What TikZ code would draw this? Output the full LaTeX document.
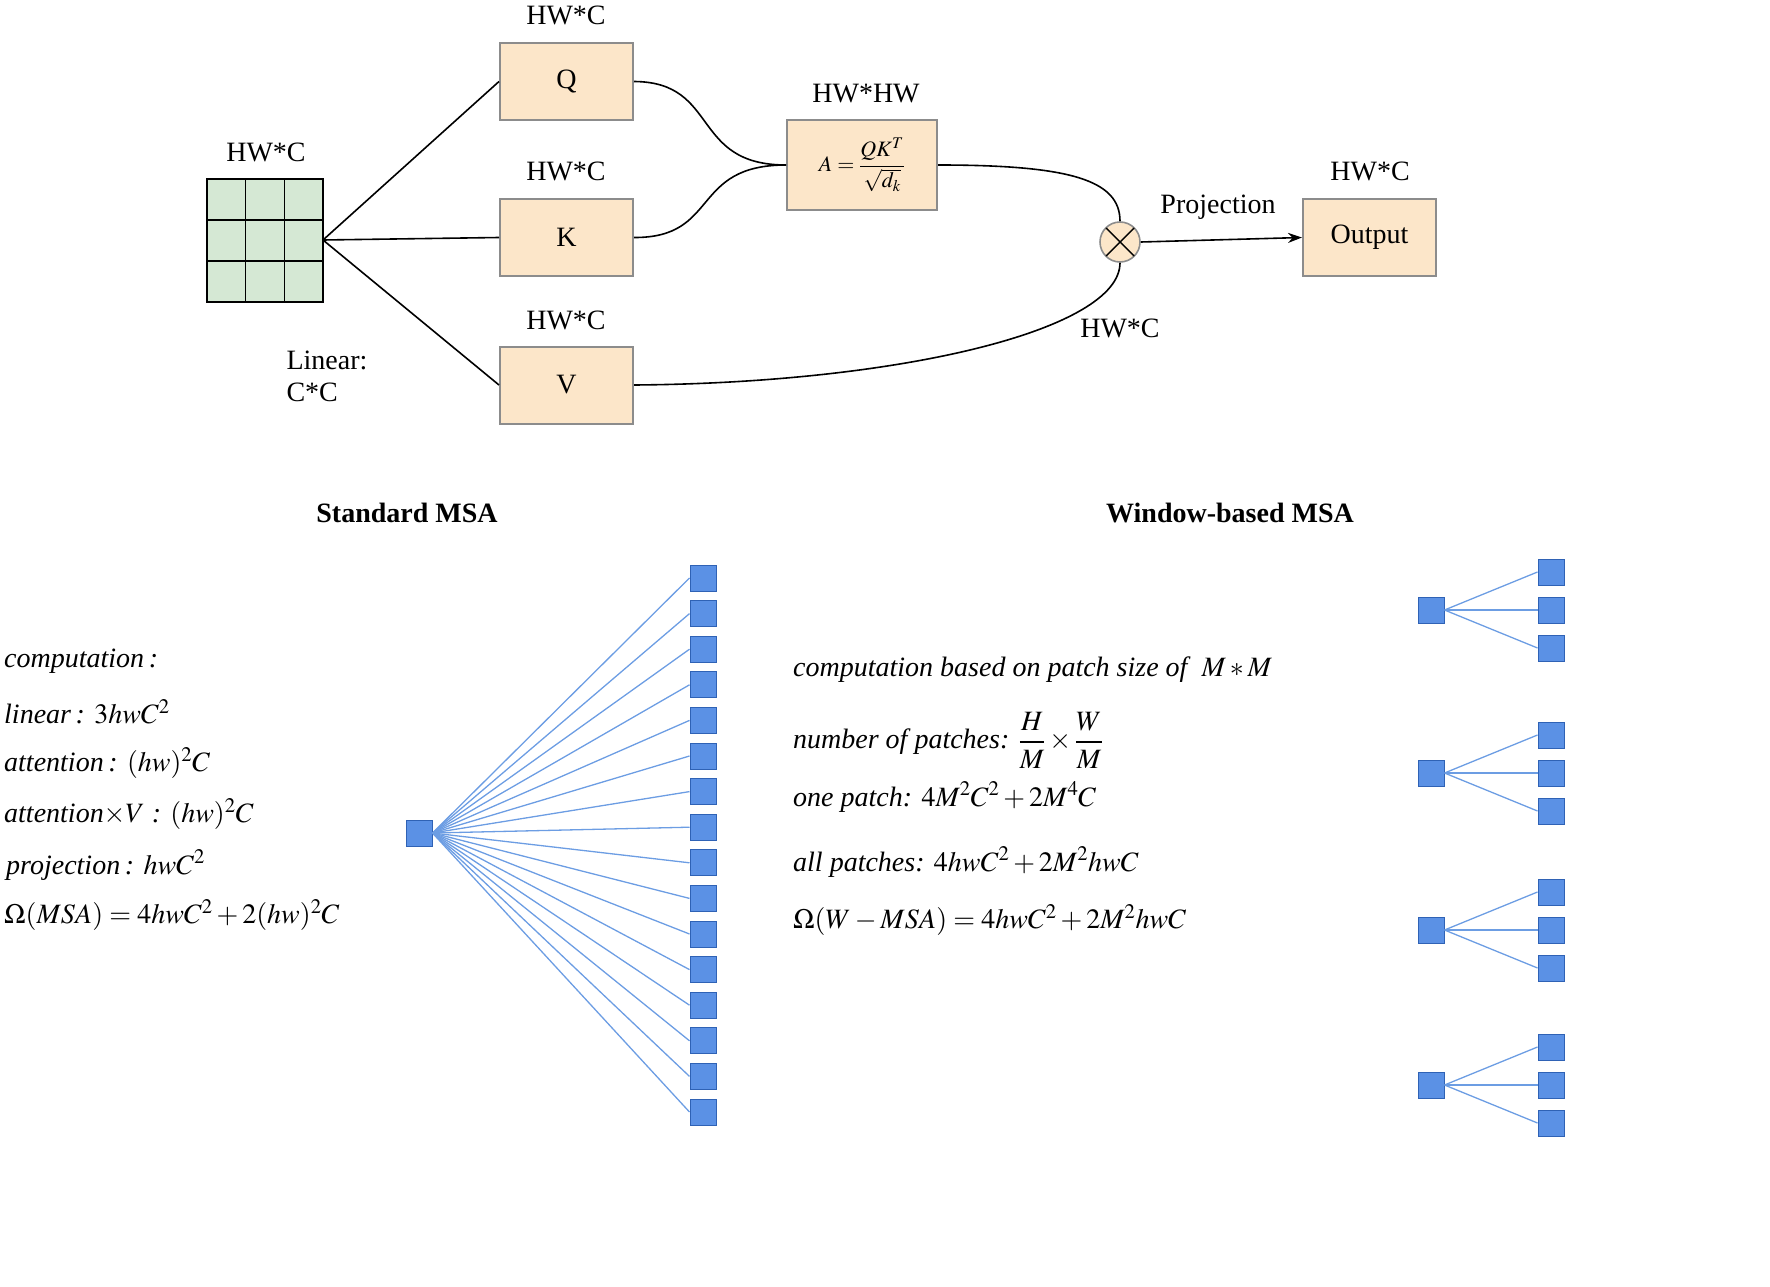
\documentclass[tikz,border=0pt]{standalone}
\usepackage{amsmath}
\usepackage{mathptmx}
\usepackage{fontspec}
\setmainfont{Liberation Serif}
\usetikzlibrary{arrows.meta,calc}
\definecolor{boxf}{HTML}{FCE6C9}
\definecolor{boxd}{HTML}{8C8C8C}
\definecolor{gridf}{HTML}{D5E8D4}
\definecolor{bluef}{HTML}{5B91E5}
\definecolor{blued}{HTML}{2F62B5}
\definecolor{bluel}{HTML}{6C9DE3}
\begin{document}
\begin{tikzpicture}[x=1pt,y=-1pt,
  lab/.style={font=\fontsize{28}{32}\selectfont},
  box/.style={draw=boxd,line width=2pt,fill=boxf,minimum width=133pt,minimum height=77pt,font=\fontsize{28}{32}\selectfont},
  sq/.style={draw=blued,fill=bluef,line width=1pt,minimum size=26pt,inner sep=0pt},
  bl/.style={draw=bluel,line width=1.3pt},
  fm/.style={anchor=west,font=\fontsize{28}{32}\selectfont\itshape,inner sep=0pt},
  con/.style={line width=1.6pt}]
\useasboundingbox (0,0) rectangle (1770,1287);
% grid
\fill[gridf] (207,179) rectangle (323,302);
\draw[line width=1.6pt] (207,179) rectangle (323,302);
\draw[line width=1.6pt] (245.67,179)--(245.67,302) (284.33,179)--(284.33,302) (207,220)--(323,220) (207,261)--(323,261);
\coordinate (g) at (323,240);
\node[lab] at (266,152) {HW*C};
\node[box] (Q) at (566.5,81.5) {Q};
\node[box] (K) at (566.5,237.5) {K};
\node[box] (V) at (566.5,385) {V};
\node[lab] at (566,15) {HW*C};
\node[lab] at (566,171) {HW*C};
\node[lab] at (566,320) {HW*C};
\node[box,minimum width=150pt,minimum height=90pt,inner sep=2pt,font=\fontsize{22}{26}\selectfont] (A) at (862,165) {$A=\dfrac{QK^T}{\sqrt{d_k}}$};
\node[lab] at (866,94) {HW*HW};
\node[draw=boxd,line width=1.6pt,fill=boxf,circle,minimum size=40pt,inner sep=0pt] (M) at (1120,242) {};
\draw[line width=1.4pt] ($(M.center)+(-14,-14)$) -- ++(28,28) ($(M.center)+(14,-14)$) -- ++(-28,28);
\node[box] (O) at (1369.5,237.5) {Output};
\node[lab] at (1370,171) {HW*C};
\node[lab] at (1218,207) {Projection};
\node[lab] at (1120,328) {HW*C};
\node[lab,anchor=west,align=left] at (283,376) {Linear:\\C*C};
\draw[con] (g) -- (Q.west);
\draw[con] (g) -- (K.west);
\draw[con] (g) -- (V.west);
\draw[con] (Q.east) .. controls (720,82) and (690,165) .. (A.west);
\draw[con] (K.east) .. controls (720,238) and (690,165) .. (A.west);
\draw[con] (A.east) .. controls (1070,165) and (1120,180) .. (M.north);
\draw[con] (V.east) .. controls (900,383) and (1120,330) .. (M.south);
\draw[con,-{Stealth[length=14pt,width=10pt]}] (M.east) -- (O.west);
% lower
\node[font=\fontsize{28}{32}\selectfont\bfseries] at (407,513) {Standard MSA};
\node[font=\fontsize{28}{32}\selectfont\bfseries] at (1230,513) {Window-based MSA};
\node[sq] (s) at (419,833) {};
\foreach \i in {0,...,15}{
  \node[sq] (t\i) at (703,{578+\i*35.6}) {};
  \draw[bl] (s.east) -- (t\i.west);
}
\foreach \j/\y in {1/610,2/773,3/930,4/1085}{
  \node[sq] (w\j) at (1431,\y) {};
  \foreach \k in {-1,0,1}{
    \node[sq] (w\j\k) at (1551,{\y+\k*38}) {};
    \draw[bl] (w\j.east) -- (w\j\k.west);
  }
}
\node[fm] at (4,661) {computation\,:};
\node[fm] at (4,712) {linear\,: $3hwC^2$};
\node[fm] at (4,763) {attention\,: $(hw)^2C$};
\node[fm] at (4,814) {attention$\times V$ : $(hw)^2C$};
\node[fm] at (6,865) {projection\,: $hwC^2$};
\node[fm] at (4,915) {$\Omega(MSA)=4hwC^2+2(hw)^2C$};
\node[fm] at (793,670) {computation based on patch size of \ $M*M$};
\node[fm] at (793,740) {number of patches: $\dfrac{H}{M}\times\dfrac{W}{M}$};
\node[fm] at (793,797) {one patch: $4M^2C^2+2M^4C$};
\node[fm] at (793,862) {all patches: $4hwC^2+2M^2hwC$};
\node[fm] at (793,920) {$\Omega(W-MSA)=4hwC^2+2M^2hwC$};
\end{tikzpicture}
\end{document}
